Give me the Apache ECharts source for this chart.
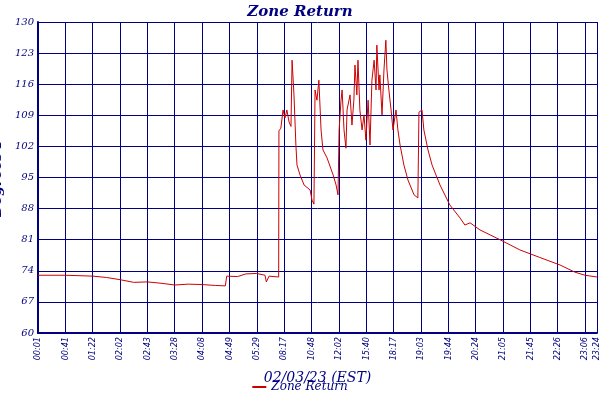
<!DOCTYPE html>
<html><head><meta charset="utf-8">
<script src="https://cdn.jsdelivr.net/npm/echarts@6/dist/echarts.min.js"></script>
<style>html,body{margin:0;background:#fff}#c{width:600px;height:400px}</style>
</head><body><div id="c"></div>
<script>
const tickLabels = ['00:01','00:41','01:22','02:02','02:43','03:28','04:08','04:49','05:29','08:17','10:48','12:02','15:40','18:17','19:03','19:44','20:24','21:05','21:45','22:26','23:06','23:24'];
const tickPos = [0,1,2,3,4,5,6,7,8,9,10,11,12,13,14,15,16,17,18,19,20,20.44];
const times = [0,1,2,2.5,3,3.5,4,4.5,5,5.5,6,6.5,6.85,6.9,7.3,7.6,8.0,8.3,8.35,8.45,8.8,
 8.81,8.88,8.96,9.03,9.10,9.18,9.25,9.29,9.36,9.43,9.47,9.58,9.73,9.87,9.95,10.02,10.09,10.11,10.13,10.20,10.27,10.35,10.42,10.57,10.79,10.90,10.97,11.01,11.08,11.12,11.19,11.26,11.30,11.41,11.48,11.55,11.59,11.66,11.70,11.77,11.85,11.92,11.99,12.07,12.14,12.21,12.29,12.36,12.39,12.47,12.50,12.58,12.65,12.72,12.76,12.83,12.91,12.98,13.09,13.16,13.24,13.38,13.53,13.75,13.89,13.93,13.97,14.04,14.11,14.26,14.41,14.55,14.70,15.06,15.43,15.61,15.80,16.16,16.89,17.62,18.35,19.09,19.63,20.0,20.44];
const temps = [73,73,72.8,72.5,72,71.4,71.5,71.2,70.8,71,70.9,70.7,70.6,72.8,72.7,73.3,73.4,73,71.5,72.8,72.6,
 105.5,106.1,110.2,108.4,110.2,107.5,106.5,121.4,113.6,102.3,97.8,95.6,93.3,92.6,92.2,89.9,89.0,101.2,114.7,112.4,116.9,105.7,101.2,99.4,95.6,93.3,91.1,105.7,112.4,114.7,105.7,101.6,110.2,113.6,106.8,112.4,120.3,113.6,121.4,110.2,105.7,109.1,103.4,112.4,102.3,116.9,121.4,114.7,124.8,114.7,118.1,109.1,119.2,125.9,119.2,114.7,110.2,105.7,110.2,105.7,102.3,97.8,94.4,91.1,90.4,109.7,109.7,110.2,105.7,101.2,97.8,95.6,93.3,88.8,85.9,84.3,84.8,83.2,81,78.7,77,75.3,73.7,73,72.6];
const navy = '#000080';
const font = 'DejaVu Serif';
const chart = echarts.init(document.getElementById('c'));
chart.setOption({
  animation:false,
  title:{text:'Zone Return',left:'center',top:0,textStyle:{color:navy,fontStyle:'italic',fontWeight:'bold',fontSize:15,fontFamily:font}},
  legend:{bottom:2,left:'center',itemWidth:14,itemHeight:2,icon:'rect',textStyle:{color:navy,fontStyle:'italic',fontSize:12,fontFamily:font}},
  grid:{left:38,right:3,top:22,bottom:67,containLabel:false,outerBoundsMode:'none'},
  xAxis:{type:'value',min:0,max:20.44,interval:1,
    name:'02/03/23 (EST)',nameLocation:'middle',nameGap:38,
    nameTextStyle:{color:navy,fontStyle:'italic',fontSize:14,fontFamily:font},
    axisLine:{lineStyle:{color:navy,width:2}},
    axisTick:{show:false},
    axisLabel:{customValues:tickPos,rotate:90,color:navy,fontSize:9,fontFamily:'DejaVu Sans Condensed',fontStyle:'italic',margin:4,
      formatter:v=>{const i=tickPos.findIndex(p=>Math.abs(p-v)<1e-6);return i>=0?tickLabels[i]:'';}},
    splitLine:{show:true,lineStyle:{color:navy,width:1}}},
  yAxis:{type:'value',min:60,max:130,interval:7,
    name:'Degrees F',nameLocation:'middle',nameGap:24,
    nameTextStyle:{color:navy,fontStyle:'italic',fontWeight:'bold',fontSize:14,fontFamily:font},
    axisLine:{show:true,lineStyle:{color:navy,width:2}},
    axisTick:{show:false},
    axisLabel:{color:navy,fontSize:10,fontFamily:font,fontStyle:'italic',margin:4},
    splitLine:{lineStyle:{color:navy,width:1}}},
  series:[{name:'Zone Return',type:'line',showSymbol:false,
    data:times.map((t,i)=>[t,temps[i]]),
    lineStyle:{color:'#cc0000',width:1},itemStyle:{color:'#cc0000'}}]
});
</script></body></html>
